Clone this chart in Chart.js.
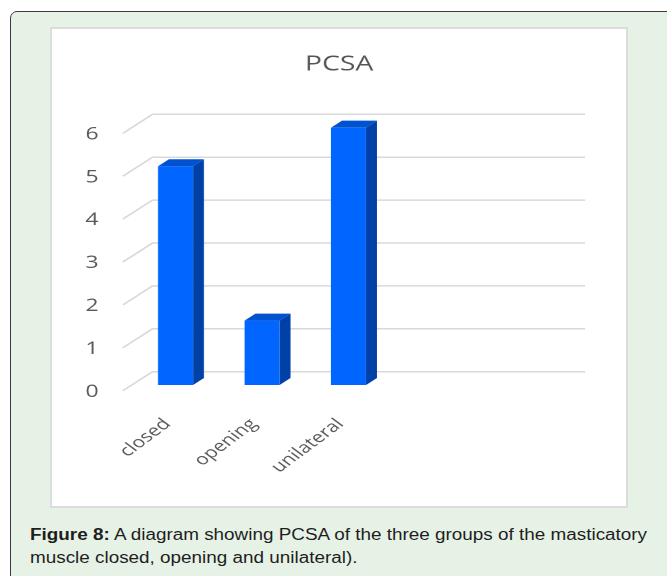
<!DOCTYPE html>
<html><head><meta charset="utf-8">
<script src="https://cdn.jsdelivr.net/npm/chart.js@4.4.1/dist/chart.umd.min.js"></script>
<style>
html,body{margin:0;padding:0;width:667px;height:576px;overflow:hidden;background:#fff;}
#panel{position:absolute;left:10px;top:11px;width:680px;height:620px;box-sizing:border-box;border:1.5px solid #3c3c3c;border-radius:7px;background:#e7f2e6;}
#box{position:absolute;left:50px;top:27px;width:578px;height:481px;box-sizing:border-box;border:2px solid #dcdcdc;background:#fff;}
#wrap{position:absolute;left:51px;top:28px;width:427px;height:479px;transform:scaleX(1.35);transform-origin:0 0;}
#cap{position:absolute;left:30px;top:523px;font-family:"Liberation Sans",Arial,sans-serif;font-size:16px;line-height:23px;color:#1e1e1e;transform-origin:0 0;transform:scaleX(1.18);white-space:nowrap;}
</style></head>
<body>
<div id="panel"></div>
<div id="box"></div>
<div id="wrap"><canvas id="c" width="427" height="479" style="width:427px;height:479px"></canvas></div>
<div id="cap"><b>Figure 8:</b> A diagram showing PCSA of the three groups of the masticatory<br>muscle closed, opening and unilateral).</div>
<script>
const categories = ['closed', 'opening', 'unilateral', '', ''];
const pcsaValues = [5.1, 1.5, 6.0, null, null];
const yTickValues = [0, 1, 2, 3, 4, 5, 6];

const DEPTH = {fx: -7, fy: 5.7, bx: 15, by: -13.3, dx: 8.1, dy: -7};

const wall3d = {
  id: 'wall3d',
  beforeDatasetsDraw(chart) {
    const {ctx, chartArea: a, scales: {y}} = chart;
    ctx.save();
    ctx.strokeStyle = '#d9d9d9';
    ctx.lineWidth = 1.5;
    y.ticks.forEach(t => {
      const py = y.getPixelForValue(t.value);
      ctx.beginPath();
      ctx.moveTo(a.left + DEPTH.fx, py + DEPTH.fy);
      ctx.lineTo(a.left + DEPTH.bx, py + DEPTH.by);
      ctx.lineTo(a.right + DEPTH.bx, py + DEPTH.by);
      ctx.stroke();
    });
    ctx.restore();
  },
  afterDatasetsDraw(chart) {
    const ctx = chart.ctx;
    const meta = chart.getDatasetMeta(0);
    const vals = chart.data.datasets[0].data;
    ctx.save();
    meta.data.forEach((bar, i) => {
      if (vals[i] === null || vals[i] === undefined) return;
      const {x, y, base, width} = bar.getProps(['x', 'y', 'base', 'width'], true);
      if (!isFinite(y) || !isFinite(x)) return;
      const l = x - width / 2, r = x + width / 2;
      ctx.fillStyle = '#0041a8';
      ctx.beginPath();
      ctx.moveTo(r, y); ctx.lineTo(r + DEPTH.dx, y + DEPTH.dy);
      ctx.lineTo(r + DEPTH.dx, base + DEPTH.dy); ctx.lineTo(r, base);
      ctx.closePath(); ctx.fill();
      ctx.fillStyle = '#0052d0';
      ctx.beginPath();
      ctx.moveTo(l, y); ctx.lineTo(l + DEPTH.dx, y + DEPTH.dy);
      ctx.lineTo(r + DEPTH.dx, y + DEPTH.dy); ctx.lineTo(r, y);
      ctx.closePath(); ctx.fill();
    });
    ctx.restore();
  }
};

new Chart(document.getElementById('c'), {
  type: 'bar',
  data: {
    labels: categories,
    datasets: [{
      label: 'PCSA',
      data: pcsaValues,
      backgroundColor: '#0066ff',
      borderWidth: 0,
      barPercentage: 0.81,
      categoryPercentage: 0.5
    }]
  },
  options: {
    responsive: false,
    animation: false,
    devicePixelRatio: 2,
    layout: {padding: 0},
    plugins: {
      legend: {display: false},
      tooltip: {enabled: false},
      title: {
        display: true, text: 'PCSA', color: '#555555',
        font: {family: 'Open Sans', size: 21, weight: 'normal', lineHeight: 1.2},
        padding: {top: 24, bottom: 50.4}
      }
    },
    scales: {
      x: {
        offset: true,
        grid: {display: false, drawTicks: false},
        border: {display: false},
        ticks: {autoSkip: false, minRotation: 45, maxRotation: 45, padding: 30, labelOffset: -6,
          color: '#595959', font: {family: 'Open Sans', size: 15.5}},
        afterFit(s) { s.height = 122; }
      },
      y: {
        min: 0, max: 6,
        grid: {display: false, drawTicks: false},
        border: {display: false},
        afterBuildTicks(s) { s.ticks = yTickValues.map(v => ({value: v})); },
        ticks: {padding: 25, labelOffset: 7, color: '#595959', font: {family: 'Open Sans', size: 17}},
        afterFit(s) { s.width = 60.2; }
      },
      yRight: {
        position: 'right',
        grid: {display: false, drawTicks: false},
        border: {display: false},
        ticks: {display: false},
        afterFit(s) { s.width = 46.4; }
      }
    }
  },
  plugins: [wall3d]
});
</script>
</body></html>
